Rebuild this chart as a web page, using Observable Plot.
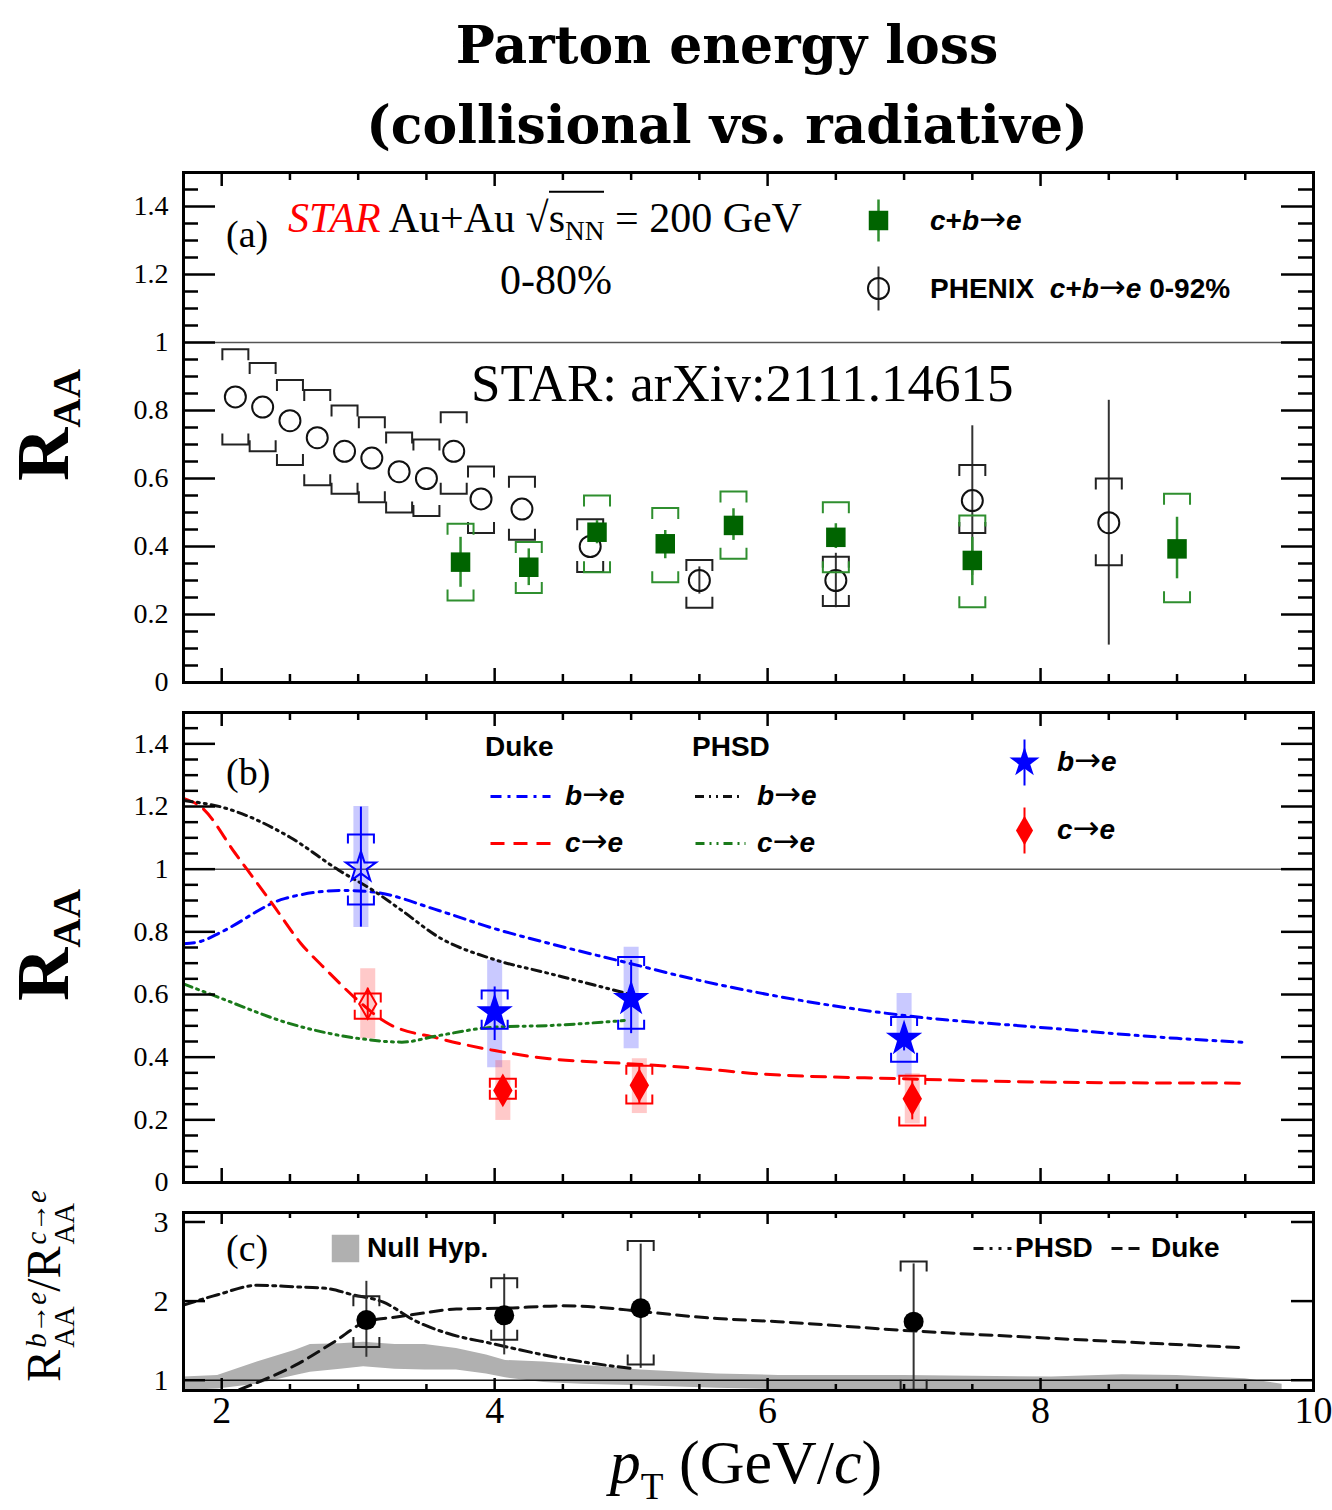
<!DOCTYPE html>
<html><head><meta charset="utf-8">
<script src="https://cdn.jsdelivr.net/npm/d3@7"></script>
<script src="https://cdn.jsdelivr.net/npm/@observablehq/plot@0.6"></script>
<style>
body{margin:0;background:#fff;}
#root{position:relative;width:1332px;height:1510px;overflow:hidden;font-family:"Liberation Serif","Times New Roman",serif;color:#000;}
.abs{position:absolute;white-space:nowrap;line-height:1;transform:translateY(-50%);}
.rot{transform:translate(-50%,-50%) rotate(-90deg);}
.ctr{transform:translate(-50%,-50%);}
.sans{font-family:"Liberation Sans",Arial,sans-serif;font-weight:bold;font-size:28px;}
.arr{font-family:"DejaVu Sans",sans-serif;font-weight:normal;font-style:normal;font-size:1.15em;line-height:0.8;}
.ss{display:inline-flex;flex-direction:column;font-size:0.6em;vertical-align:0.5em;line-height:1;margin-left:2px;}
svg{position:absolute;left:0;}
</style></head><body><div id="root"></div>
<script>
// ---------------- DATA ----------------
// Panel (a): PHENIX c+b->e 0-92%
const phenixPt    = [2.1, 2.3, 2.5, 2.7, 2.9, 3.1, 3.3, 3.5, 3.7, 3.9, 4.2, 4.7, 5.5, 6.5, 7.5, 8.5];
const phenixRaa   = [0.84, 0.81, 0.77, 0.72, 0.68, 0.66, 0.62, 0.60, 0.68, 0.54, 0.51, 0.40, 0.30, 0.30, 0.535, 0.47];
const phenixStat  = [0.01, 0.01, 0.01, 0.01, 0.01, 0.01, 0.01, 0.01, 0.01, 0.02, 0.02, 0.03, 0.04, 0.08, 0.22, 0.36];
const phenixSysHi = [0.98, 0.94, 0.89, 0.86, 0.815, 0.78, 0.735, 0.715, 0.795, 0.635, 0.605, 0.48, 0.36, 0.37, 0.64, 0.60];
const phenixSysLo = [0.70, 0.68, 0.64, 0.58, 0.555, 0.53, 0.50, 0.49, 0.555, 0.44, 0.42, 0.325, 0.22, 0.225, 0.44, 0.345];
// Panel (a): STAR c+b->e 0-80%
const starPt     = [3.75, 4.25, 4.75, 5.25, 5.75, 6.5, 7.5, 9.0];
const starRaa    = [0.354, 0.339, 0.442, 0.408, 0.462, 0.427, 0.359, 0.393];
const starStatLo = [0.280, 0.285, 0.408, 0.364, 0.418, 0.394, 0.285, 0.305];
const starStatHi = [0.427, 0.393, 0.476, 0.447, 0.511, 0.467, 0.427, 0.486];
const starSysHi  = [0.467, 0.413, 0.550, 0.513, 0.562, 0.530, 0.491, 0.555];
const starSysLo  = [0.241, 0.263, 0.324, 0.295, 0.364, 0.324, 0.221, 0.236];

// Panel (b): b->e (stars) and c->e (diamonds)
const bePt     = [3.02, 4.0, 5.0, 7.0];
const beRaa    = [1.006, 0.544, 0.586, 0.459];
const beStatLo = [0.815, 0.453, 0.475, 0.42];
const beStatHi = [1.198, 0.624, 0.709, 0.50];
const beSysLo  = [0.887, 0.491, 0.491, 0.385];
const beSysHi  = [1.111, 0.613, 0.720, 0.528];
const beBandLo = [0.814, 0.366, 0.427, 0.336];
const beBandHi = [1.200, 0.709, 0.751, 0.603];
const beOpen   = [true, false, false, false];

const cePt     = [3.07, 4.06, 5.06, 7.06];
const ceRaa    = [0.570, 0.294, 0.310, 0.267];
const ceStatLo = [0.52, 0.25, 0.25, 0.20];
const ceStatHi = [0.62, 0.34, 0.37, 0.33];
const ceSysLo  = [0.523, 0.267, 0.252, 0.182];
const ceSysHi  = [0.603, 0.331, 0.373, 0.341];
const ceBandLo = [0.459, 0.198, 0.220, 0.187];
const ceBandHi = [0.682, 0.389, 0.395, 0.347];
const ceOpen   = [true, false, false, false];

// Panel (b): model curves
const dukeBePt  = [1.72, 1.85, 2.0, 2.46, 2.89, 3.11, 3.59, 4.0, 4.4, 4.9, 5.5, 5.93, 7.0, 8.0, 9.0, 9.5];
const dukeBeRaa = [0.762, 0.77, 0.80, 0.906, 0.932, 0.927, 0.868, 0.81, 0.763, 0.709, 0.645, 0.606, 0.533, 0.495, 0.46, 0.447];
const dukeCePt  = [1.72, 1.85, 2.1, 2.37, 2.58, 2.77, 2.97, 3.2, 3.59, 4.0, 4.4, 4.95, 5.5, 5.93, 7.0, 8.08, 9.5];
const dukeCeRaa = [1.226, 1.198, 1.05, 0.89, 0.763, 0.677, 0.592, 0.512, 0.46, 0.421, 0.395, 0.38, 0.364, 0.347, 0.331, 0.32, 0.317];
const phsdBePt  = [1.72, 2.0, 2.5, 2.86, 3.11, 3.32, 3.59, 3.98, 4.4, 5.0];
const phsdBeRaa = [1.219, 1.198, 1.102, 0.996, 0.932, 0.868, 0.783, 0.714, 0.667, 0.60];
const phsdCePt  = [1.72, 2.0, 2.5, 3.0, 3.32, 3.59, 4.0, 4.4, 4.95];
const phsdCeRaa = [0.634, 0.587, 0.507, 0.46, 0.448, 0.469, 0.496, 0.501, 0.517];

// Panel (c): double ratio
const ratioPt     = [3.06, 4.07, 5.07, 7.07];
const ratioVal    = [1.76, 1.82, 1.91, 1.74];
const ratioStatLo = [1.29, 1.32, 1.15, 0.80];
const ratioStatHi = [2.25, 2.34, 2.72, 2.47];
const ratioSysLo  = [1.42, 1.51, 1.20, 0.88];
const ratioSysHi  = [2.06, 2.29, 2.76, 2.50];
const phsdRatioPt = [1.72, 1.97, 2.26, 2.54, 2.77, 2.96, 3.18, 3.43, 3.66, 3.99, 4.36, 4.73, 5.0];
const phsdRatio   = [1.95, 2.08, 2.20, 2.18, 2.16, 2.08, 1.99, 1.74, 1.59, 1.46, 1.32, 1.21, 1.15];
const dukeRatioPt = [2.0, 2.26, 2.54, 2.82, 3.06, 3.28, 3.44, 3.72, 4.07, 4.5, 4.78, 5.07, 5.63, 6.08, 7.0, 8.08, 9.5];
const dukeRatio   = [0.80, 0.97, 1.19, 1.48, 1.74, 1.80, 1.84, 1.90, 1.91, 1.94, 1.92, 1.87, 1.78, 1.74, 1.63, 1.53, 1.41];
const nullPt = [1.72, 1.97, 2.26, 2.54, 2.65, 2.87, 3.04, 3.27, 3.49, 3.72, 3.94, 4.08, 4.36, 4.64, 5.07, 5.63, 6.08, 7.0, 8.08, 8.6, 9.0, 9.5, 9.77];
const nullHi = [1.04, 1.06, 1.23, 1.38, 1.45, 1.46, 1.48, 1.45, 1.45, 1.40, 1.32, 1.25, 1.23, 1.19, 1.13, 1.08, 1.06, 1.06, 1.04, 1.07, 1.06, 1.02, 0.95];
const nullLo = [0.87, 0.89, 0.95, 1.06, 1.10, 1.14, 1.17, 1.14, 1.13, 1.13, 1.08, 1.03, 0.97, 0.95, 0.93, 0.90, 0.88, 0.88, 0.88, 0.88, 0.88, 0.88, 0.88];

// Axis ticks
const xMajor = [2, 4, 6, 8, 10];
const xMinor = [2.5, 3, 3.5, 4.5, 5, 5.5, 6.5, 7, 7.5, 8.5, 9, 9.5];
const raaMajor = [0, 0.2, 0.4, 0.6, 0.8, 1, 1.2, 1.4];
const raaMinor = [0.05, 0.1, 0.15, 0.25, 0.3, 0.35, 0.45, 0.5, 0.55, 0.65, 0.7, 0.75, 0.85, 0.9, 0.95, 1.05, 1.1, 1.15, 1.25, 1.3, 1.35, 1.45];
const ratioMajor = [1, 2, 3];
const xTickLabels = [2, 4, 6, 8, 10];

// ---------------- HELPERS ----------------
function rows(xs, cols) { return xs.map((v, i) => { const o = {x: v}; for (const k in cols) o[k] = cols[k][i]; return o; }); }
const phenix = rows(phenixPt, {y: phenixRaa, st: phenixStat, hi: phenixSysHi, lo: phenixSysLo});
const star = rows(starPt, {y: starRaa, slo: starStatLo, shi: starStatHi, hi: starSysHi, lo: starSysLo});
const be = rows(bePt, {y: beRaa, slo: beStatLo, shi: beStatHi, lo: beSysLo, hi: beSysHi, blo: beBandLo, bhi: beBandHi, open: beOpen});
const ce = rows(cePt, {y: ceRaa, slo: ceStatLo, shi: ceStatHi, lo: ceSysLo, hi: ceSysHi, blo: ceBandLo, bhi: ceBandHi, open: ceOpen});
const ratio = rows(ratioPt, {y: ratioVal, slo: ratioStatLo, shi: ratioStatHi, lo: ratioSysLo, hi: ratioSysHi});
const curve = (xs, ys) => rows(xs, {y: ys});
const nullBand = rows(nullPt, {lo: nullLo, hi: nullHi});

const W = 1332, ML = 183, MR = 19, innerW = W - ML - MR;
const green = "#006400", greenSys = "#2f8f2f", blue = "#0000ff", red = "#ff0000";
const FONT = "Liberation Serif, Times New Roman, serif";

const bTop = (w, a) => ({draw(c){ c.moveTo(-w, a); c.lineTo(-w, 0); c.lineTo(w, 0); c.lineTo(w, a); }});
const bBot = (w, a) => ({draw(c){ c.moveTo(-w, -a); c.lineTo(-w, 0); c.lineTo(w, 0); c.lineTo(w, -a); }});
const vBar = h => ({draw(c){ c.moveTo(0, -h/2); c.lineTo(0, h/2); }});
const hBar = w => ({draw(c){ c.moveTo(-w/2, 0); c.lineTo(w/2, 0); }});
const fmt = d => String(+(+d).toFixed(2));

function decor(innerH, yMajor, yMinor, yLen, yMinLen, xLen, xMinLen) {
  const sw = 2.5;
  return [
    Plot.tickY(yMajor, {y: d => d, insetRight: innerW - yLen, strokeWidth: sw}),
    Plot.tickY(yMajor, {y: d => d, insetLeft: innerW - yLen, strokeWidth: sw}),
    Plot.tickY(yMinor, {y: d => d, insetRight: innerW - yMinLen, strokeWidth: sw}),
    Plot.tickY(yMinor, {y: d => d, insetLeft: innerW - yMinLen, strokeWidth: sw}),
    Plot.tickX(xMajor, {x: d => d, insetBottom: innerH - xLen, strokeWidth: sw}),
    Plot.tickX(xMajor, {x: d => d, insetTop: innerH - xLen, strokeWidth: sw}),
    Plot.tickX(xMinor, {x: d => d, insetBottom: innerH - xMinLen, strokeWidth: sw}),
    Plot.tickX(xMinor, {x: d => d, insetTop: innerH - xMinLen, strokeWidth: sw}),
    Plot.frame({stroke: "black", strokeWidth: 3})
  ];
}
const legDot = (dx, dy, o) => Plot.dot([0], {x: null, y: null, frameAnchor: "top-left", dx, dy, ...o});
const style = {fontFamily: FONT, fontSize: "28px", color: "black", background: "transparent", overflow: "visible"};

// ---------------- PANEL A ----------------
const hA = 560, mtA = 22, mbA = 28, innerHA = hA - mtA - mbA;
const plotA = Plot.plot({
  width: W, height: hA, marginLeft: ML, marginRight: MR, marginTop: mtA, marginBottom: mbA,
  x: {domain: [1.72, 10], axis: null},
  y: {domain: [0, 1.5]},
  style,
  marks: [
    Plot.ruleY([1], {stroke: "#555", strokeWidth: 1.5}),
    // PHENIX
    Plot.ruleX(phenix.filter(d => d.st > 0.031), {x: "x", y1: d => d.y - d.st, y2: d => d.y + d.st, stroke: "#333", strokeWidth: 2}),
    Plot.dot(phenix, {x: "x", y: "hi", symbol: bTop(13, 11), fill: "none", stroke: "#222", strokeWidth: 2}),
    Plot.dot(phenix, {x: "x", y: "lo", symbol: bBot(13, 11), fill: "none", stroke: "#222", strokeWidth: 2}),
    Plot.dot(phenix, {x: "x", y: "y", r: 10.5, fill: "none", stroke: "#111", strokeWidth: 2}),
    // STAR
    Plot.dot(star, {x: "x", y: "hi", symbol: bTop(13, 11), fill: "none", stroke: greenSys, strokeWidth: 2}),
    Plot.dot(star, {x: "x", y: "lo", symbol: bBot(13, 11), fill: "none", stroke: greenSys, strokeWidth: 2}),
    Plot.ruleX(star, {x: "x", y1: "slo", y2: "shi", stroke: greenSys, strokeWidth: 2.5}),
    Plot.dot(star, {x: "x", y: "y", symbol: "square", r: 11, fill: green}),
    // legend
    legDot(695, 48, {symbol: vBar(42), fill: "none", stroke: greenSys, strokeWidth: 2.5}),
    legDot(695, 48, {symbol: "square", r: 11, fill: green}),
    legDot(695, 116, {symbol: vBar(44), fill: "none", stroke: "#333", strokeWidth: 2}),
    legDot(695, 116, {r: 10.5, fill: "none", stroke: "#111", strokeWidth: 2}),
    ...decor(innerHA, raaMajor, raaMinor, 32, 15, 14, 8),
    Plot.axisY(raaMajor, {tickSize: 0, tickPadding: 15, tickFormat: fmt, fontSize: 28, label: null})
  ]
});

// ---------------- PANEL B ----------------
const hB = 510, mtB = 12, mbB = 28, innerHB = hB - mtB - mbB;
const dashBlue = "11,6,3,6", dashRed = "14,9", dashPhsd = "9,5,2,5,2,5";
const plotB = Plot.plot({
  width: W, height: hB, marginLeft: ML, marginRight: MR, marginTop: mtB, marginBottom: mbB,
  x: {domain: [1.72, 10], axis: null},
  y: {domain: [0, 1.5]},
  style,
  marks: [
    Plot.ruleY([1], {stroke: "#555", strokeWidth: 1.5}),
    Plot.ruleX(be, {x: "x", y1: "blo", y2: "bhi", stroke: "rgba(60,60,255,0.28)", strokeWidth: 15}),
    Plot.ruleX(ce, {x: "x", y1: "blo", y2: "bhi", stroke: "rgba(255,60,60,0.28)", strokeWidth: 15}),
    Plot.line(curve(dukeBePt, dukeBeRaa), {x: "x", y: "y", stroke: blue, strokeWidth: 3, strokeDasharray: dashBlue, curve: "monotone-x", clip: true}),
    Plot.line(curve(dukeCePt, dukeCeRaa), {x: "x", y: "y", stroke: red, strokeWidth: 3, strokeDasharray: dashRed, curve: "monotone-x", clip: true}),
    Plot.line(curve(phsdBePt, phsdBeRaa), {x: "x", y: "y", stroke: "#111", strokeWidth: 3, strokeDasharray: dashPhsd, curve: "monotone-x", clip: true}),
    Plot.line(curve(phsdCePt, phsdCeRaa), {x: "x", y: "y", stroke: "#1a7a1a", strokeWidth: 3, strokeDasharray: dashPhsd, curve: "monotone-x", clip: true}),
    // b->e
    Plot.ruleX(be, {x: "x", y1: "slo", y2: "shi", stroke: blue, strokeWidth: 2}),
    Plot.dot(be, {x: "x", y: "hi", symbol: bTop(13, 9), fill: "none", stroke: blue, strokeWidth: 2}),
    Plot.dot(be, {x: "x", y: "lo", symbol: bBot(13, 9), fill: "none", stroke: blue, strokeWidth: 2}),
    Plot.dot(be, {x: "x", y: "y", symbol: "star", r: 9.5, fill: d => d.open ? "none" : blue, stroke: blue, strokeWidth: 2}),
    // c->e
    Plot.ruleX(ce, {x: "x", y1: "slo", y2: "shi", stroke: red, strokeWidth: 2}),
    Plot.dot(ce, {x: "x", y: "hi", symbol: bTop(13, 9), fill: "none", stroke: red, strokeWidth: 2}),
    Plot.dot(ce, {x: "x", y: "lo", symbol: bBot(13, 9), fill: "none", stroke: red, strokeWidth: 2}),
    Plot.dot(ce, {x: "x", y: "y", symbol: "diamond", r: 9, fill: d => d.open ? "none" : red, stroke: red, strokeWidth: 2}),
    // legend
    legDot(337, 84, {symbol: hBar(60), fill: "none", stroke: blue, strokeWidth: 3, strokeDasharray: dashBlue}),
    legDot(337, 131, {symbol: hBar(60), fill: "none", stroke: red, strokeWidth: 3, strokeDasharray: dashRed}),
    legDot(535, 84, {symbol: hBar(47), fill: "none", stroke: "#111", strokeWidth: 3, strokeDasharray: dashPhsd}),
    legDot(537, 131, {symbol: hBar(50), fill: "none", stroke: "#1a7a1a", strokeWidth: 3, strokeDasharray: dashPhsd}),
    legDot(841, 50, {symbol: vBar(46), fill: "none", stroke: blue, strokeWidth: 2}),
    legDot(841, 50, {symbol: "star", r: 9.5, fill: blue}),
    legDot(841, 118, {symbol: vBar(46), fill: "none", stroke: red, strokeWidth: 2}),
    legDot(841, 118, {symbol: "diamond", r: 9, fill: red}),
    ...decor(innerHB, raaMajor, raaMinor, 32, 15, 14, 8),
    Plot.axisY(raaMajor, {tickSize: 0, tickPadding: 15, tickFormat: fmt, fontSize: 28, label: null})
  ]
});

// ---------------- PANEL C ----------------
const hC = 250, mtC = 12, mbC = 60, innerHC = hC - mtC - mbC;
const dashPhsdC = "12,5,3,5", dashDukeC = "12,7";
const plotC = Plot.plot({
  width: W, height: hC, marginLeft: ML, marginRight: MR, marginTop: mtC, marginBottom: mbC,
  x: {domain: [1.72, 10]},
  y: {domain: [0.87, 3.12]},
  style,
  marks: [
    Plot.areaY(nullBand, {x: "x", y1: "lo", y2: "hi", fill: "#b0b0b0", clip: true}),
    Plot.ruleY([1], {stroke: "#111", strokeWidth: 1.5}),
    Plot.line(curve(phsdRatioPt, phsdRatio), {x: "x", y: "y", stroke: "#111", strokeWidth: 3, strokeDasharray: dashPhsdC, curve: "monotone-x", clip: true}),
    Plot.line(curve(dukeRatioPt, dukeRatio), {x: "x", y: "y", stroke: "#111", strokeWidth: 3, strokeDasharray: dashDukeC, curve: "monotone-x", clip: true}),
    Plot.ruleX(ratio, {x: "x", y1: "slo", y2: "shi", stroke: "#333", strokeWidth: 2, clip: true}),
    Plot.dot(ratio, {x: "x", y: "hi", symbol: bTop(13, 10), fill: "none", stroke: "#222", strokeWidth: 2, clip: true}),
    Plot.dot(ratio, {x: "x", y: "lo", symbol: bBot(13, 10), fill: "none", stroke: "#222", strokeWidth: 2, clip: true}),
    Plot.dot(ratio, {x: "x", y: "y", r: 10, fill: "#000"}),
    // legend
    legDot(162, 36, {symbol: "square", r: 15.5, fill: "#b0b0b0"}),
    legDot(809, 36, {symbol: hBar(38), fill: "none", stroke: "#111", strokeWidth: 3, strokeDasharray: "10,6,3,6,3,6"}),
    legDot(945, 36, {symbol: hBar(34), fill: "none", stroke: "#111", strokeWidth: 3, strokeDasharray: "11,6"}),
    ...decor(innerHC, ratioMajor, [], 22, 0, 12, 6),
    Plot.axisY(ratioMajor, {tickSize: 0, tickPadding: 15, tickFormat: fmt, fontSize: 30, label: null}),
    Plot.axisX(xTickLabels, {tickSize: 0, tickPadding: 6, tickFormat: fmt, fontSize: 38, label: null})
  ]
});

const root = document.getElementById("root");
[[plotA, 150], [plotB, 700], [plotC, 1200]].forEach(([p, top]) => { p.style.position = "absolute"; p.style.top = top + "px"; p.style.left = "0px"; root.appendChild(p); });

// ---------------- TEXT ----------------
function txt(html, css, cls = "abs") {
  const d = document.createElement("div");
  d.className = cls; d.innerHTML = html; d.style.cssText += css; root.appendChild(d);
}
const arrow = '<span class="arr">→</span>';
// title
txt("Parton energy loss", "left:727px;top:45px;font-family:'DejaVu Serif',serif;font-weight:bold;font-size:52px;", "abs ctr");
txt("(collisional vs. radiative)", "left:727px;top:125px;font-family:'DejaVu Serif',serif;font-weight:bold;font-size:52px;", "abs ctr");
// y labels
txt('R<sub style="font-size:0.55em;vertical-align:-0.3em">AA</sub>', "left:47px;top:425px;font-size:74px;font-weight:bold;", "abs rot");
txt('R<sub style="font-size:0.55em;vertical-align:-0.3em">AA</sub>', "left:47px;top:945px;font-size:74px;font-weight:bold;", "abs rot");
txt('R<span class="ss"><span><i>b</i>→<i>e</i></span><span>AA</span></span>/R<span class="ss"><span><i>c</i>→<i>e</i></span><span>AA</span></span>', "left:50px;top:1286px;font-size:48px;", "abs rot");
// x label
txt('<i>p</i><sub style="font-size:0.6em;vertical-align:-0.45em">T</sub> (GeV/<i>c</i>)', "left:746px;top:1468px;font-size:62px;", "abs ctr");
// panel a
txt("(a)", "left:226px;top:234px;font-size:38px;");
txt('<span style="color:#ff0000;font-style:italic">STAR</span> Au+Au √<span style="border-top:2px solid #000;padding-top:2px">s<sub style="font-size:0.65em;vertical-align:-0.3em">NN</sub></span> = 200 GeV', "left:288px;top:221px;font-size:42px;");
txt("0-80%", "left:500px;top:280px;font-size:42px;");
txt("STAR: arXiv:2111.14615", "left:471px;top:383px;font-size:53px;");
txt('<i>c</i>+<i>b</i>' + arrow + '<i>e</i>', "left:930px;top:221px;", "abs sans");
txt('PHENIX&nbsp; <i>c</i>+<i>b</i>' + arrow + '<i>e</i> 0-92%', "left:930px;top:289px;", "abs sans");
// panel b
txt("(b)", "left:226px;top:772px;font-size:38px;");
txt("Duke", "left:485px;top:747px;", "abs sans");
txt("PHSD", "left:692px;top:747px;", "abs sans");
txt('<i>b</i>' + arrow + '<i>e</i>', "left:565px;top:796px;", "abs sans");
txt('<i>c</i>' + arrow + '<i>e</i>', "left:565px;top:843px;", "abs sans");
txt('<i>b</i>' + arrow + '<i>e</i>', "left:757px;top:796px;", "abs sans");
txt('<i>c</i>' + arrow + '<i>e</i>', "left:757px;top:843px;", "abs sans");
txt('<i>b</i>' + arrow + '<i>e</i>', "left:1057px;top:762px;", "abs sans");
txt('<i>c</i>' + arrow + '<i>e</i>', "left:1057px;top:830px;", "abs sans");
// panel c
txt("(c)", "left:226px;top:1248px;font-size:38px;");
txt("Null Hyp.", "left:367px;top:1248px;", "abs sans");
txt("PHSD", "left:1015px;top:1248px;", "abs sans");
txt("Duke", "left:1151px;top:1248px;", "abs sans");
</script></body></html>
